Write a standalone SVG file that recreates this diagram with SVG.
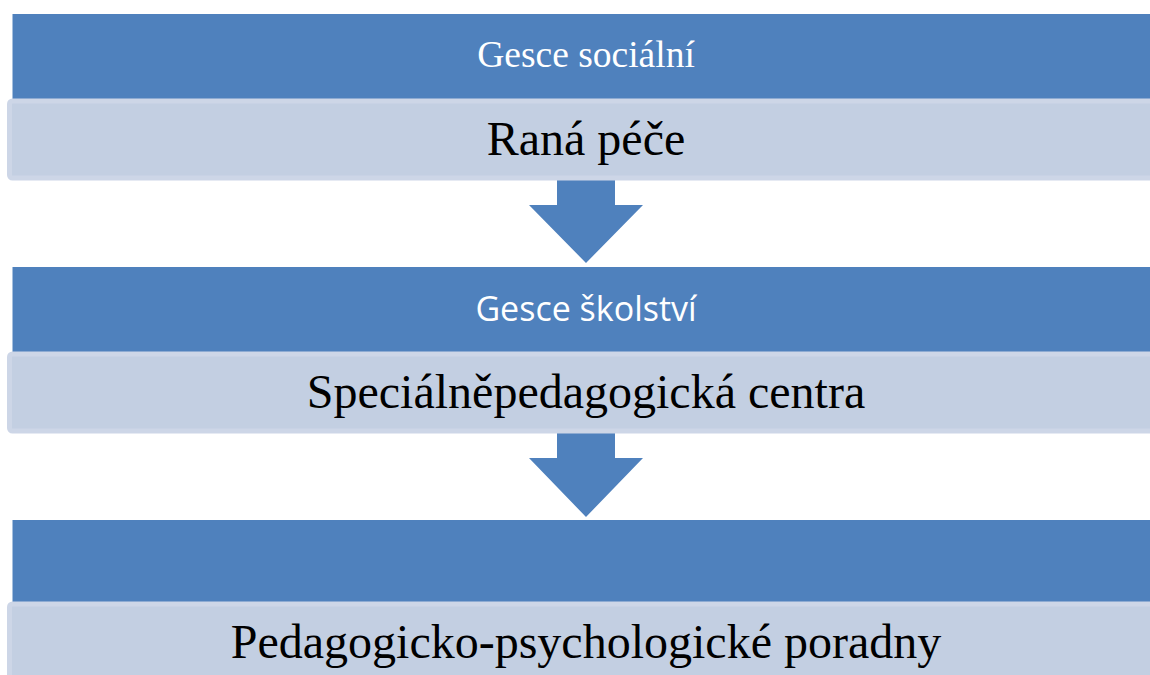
<svg xmlns="http://www.w3.org/2000/svg" width="1150" height="675" viewBox="0 0 1150 675">
<style>
.hdr{fill:#4F81BD}
.body{fill:#C3CFE2;stroke:#CDD6E7;stroke-width:5}
.arrow{fill:#4F81BD}
.t1{font-family:"Liberation Serif","Times New Roman",serif;font-size:37.5px;fill:#FFFFFF;text-anchor:middle}
.t1s{font-family:"Open Sans","Liberation Sans",sans-serif;font-size:34px;fill:#FFFFFF;text-anchor:middle}
.t2{font-family:"Liberation Serif","Times New Roman",serif;font-size:48px;fill:#000000;text-anchor:middle}
</style>
<rect width="1150" height="675" fill="#FFFFFF"/>
<g id="connectors">
<polygon class="arrow" points="557,178 615,178 615,205 643,205 586,263 529,205 557,205"/>
<polygon class="arrow" points="557,432 615,432 615,458 643,458 586,517 529,458 557,458"/>
</g>
<g id="node1">
<rect class="hdr" x="12.5" y="14" width="1150" height="85"/>
<text class="t1" x="586" y="67">Gesce sociální</text>
<rect class="body" x="9.5" y="101" width="1150" height="77" rx="3"/>
<text class="t2" x="586" y="155">Raná péče</text>
</g>
<g id="node2">
<rect class="hdr" x="12.5" y="267" width="1150" height="85"/>
<text class="t1s" x="586" y="321">Gesce školství</text>
<rect class="body" x="9.5" y="354" width="1150" height="77" rx="3"/>
<text class="t2" x="586" y="408">Speciálněpedagogická centra</text>
</g>
<g id="node3">
<rect class="hdr" x="12.5" y="520" width="1150" height="83"/>
<rect class="body" x="9.5" y="604" width="1150" height="80" rx="3"/>
<text class="t2" x="586" y="658">Pedagogicko-psychologické poradny</text>
</g>
</svg>
